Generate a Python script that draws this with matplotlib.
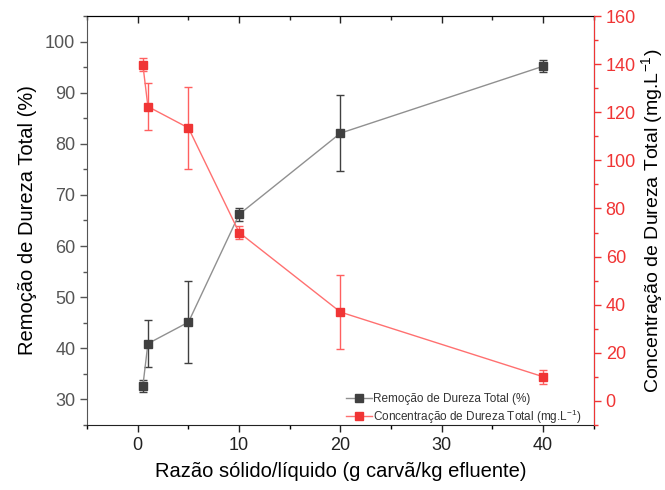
import matplotlib
matplotlib.use('Agg')
import matplotlib.pyplot as plt
from matplotlib.ticker import MultipleLocator, NullFormatter
from matplotlib.lines import Line2D

plt.rcParams['font.family'] = ['Liberation Sans', 'DejaVu Sans']
plt.rcParams['mathtext.default'] = 'regular'

# data
razao = [0.5, 1, 5, 10, 20, 40]
remocao = [32.6, 40.9, 45.1, 66.2, 82.1, 95.2]
remocao_err = [1.2, 4.6, 8.0, 1.3, 7.4, 1.2]
conc = [139.8, 122.4, 113.5, 70.0, 36.9, 10.0]
conc_err = [2.8, 9.9, 16.9, 2.8, 15.5, 2.9]

preto = '#404040'
vermelho = '#f03535'

fig = plt.figure(figsize=(6.65, 4.9), dpi=100)
ax = fig.add_axes([0.131, 0.133, 0.762, 0.834])
ax2 = ax.twinx()

ax.errorbar(razao, remocao, yerr=remocao_err, color='#909090', lw=1,
            marker='s', ms=6, mfc=preto, mec=preto, ecolor=preto,
            elinewidth=1, capsize=3, capthick=1)
ax2.errorbar(razao, conc, yerr=conc_err, color='#ff7070', lw=1,
             marker='s', ms=6, mfc=vermelho, mec=vermelho, ecolor='#ff6060',
             elinewidth=1, capsize=3, capthick=1)

ax.set_xlim(-5, 45)
ax.set_ylim(25, 105)
ax2.set_ylim(-10, 160)

ax.xaxis.set_major_locator(MultipleLocator(10))
ax.xaxis.set_minor_locator(MultipleLocator(5))
ax.yaxis.set_major_locator(MultipleLocator(10))
ax.yaxis.set_minor_locator(MultipleLocator(5))
ax2.yaxis.set_major_locator(MultipleLocator(20))
ax2.yaxis.set_minor_locator(MultipleLocator(10))

ax.tick_params(axis='x', which='major', direction='out', length=5, width=1,
               labelsize=13, colors='#222222')
ax.tick_params(axis='x', which='minor', direction='out', length=3, width=1)
ax.tick_params(axis='y', which='major', direction='out', length=5, width=1,
               labelsize=13, colors='#555555')
ax.tick_params(axis='y', which='minor', direction='out', length=3, width=1, colors='#555555')
ax2.tick_params(axis='y', which='both', direction='out', colors=vermelho, labelsize=13, width=1)
ax2.tick_params(axis='y', which='major', length=5)
ax2.tick_params(axis='y', which='minor', length=3)

# top axis with inward ticks, no labels
topo = ax.secondary_xaxis('top')
topo.xaxis.set_major_locator(MultipleLocator(10))
topo.xaxis.set_minor_locator(MultipleLocator(5))
topo.xaxis.set_major_formatter(NullFormatter())
topo.tick_params(which='major', direction='in', length=5, width=1, colors='#222222')
topo.tick_params(which='minor', direction='in', length=3, width=1, colors='#222222')
topo.spines['top'].set_color('#222222')

ax.spines['bottom'].set_color('#222222')
ax.spines['left'].set_color('#555555')
ax2.spines['right'].set_color(vermelho)
ax2.spines['left'].set_visible(False)
ax2.spines['top'].set_visible(False)
ax2.spines['bottom'].set_visible(False)

ax.set_xlabel('Razão sólido/líquido (g carvã/kg efluente)', fontsize=14.5, labelpad=6)
ax.set_ylabel('Remoção de Dureza Total (%)', fontsize=14.5, labelpad=6)
ax2.set_ylabel('Concentração de Dureza Total (mg.L$^{-1}$)', fontsize=14, labelpad=2)

h1 = Line2D([], [], color='#909090', lw=1, marker='s', ms=6, mfc=preto, mec=preto)
h2 = Line2D([], [], color='#ff7070', lw=1, marker='s', ms=6, mfc=vermelho, mec=vermelho)
ax2.legend([h1, h2], ['Remoção de Dureza Total (%)',
                      'Concentração de Dureza Total (mg.L$^{-1}$)'],
           loc='lower right', bbox_to_anchor=(0.995, -0.025), frameon=False,
           fontsize=8.5, handlelength=2.2, handletextpad=0.1, borderpad=0.3,
           labelspacing=0.2, labelcolor='#333333')

fig.savefig('out.png', dpi=100)
